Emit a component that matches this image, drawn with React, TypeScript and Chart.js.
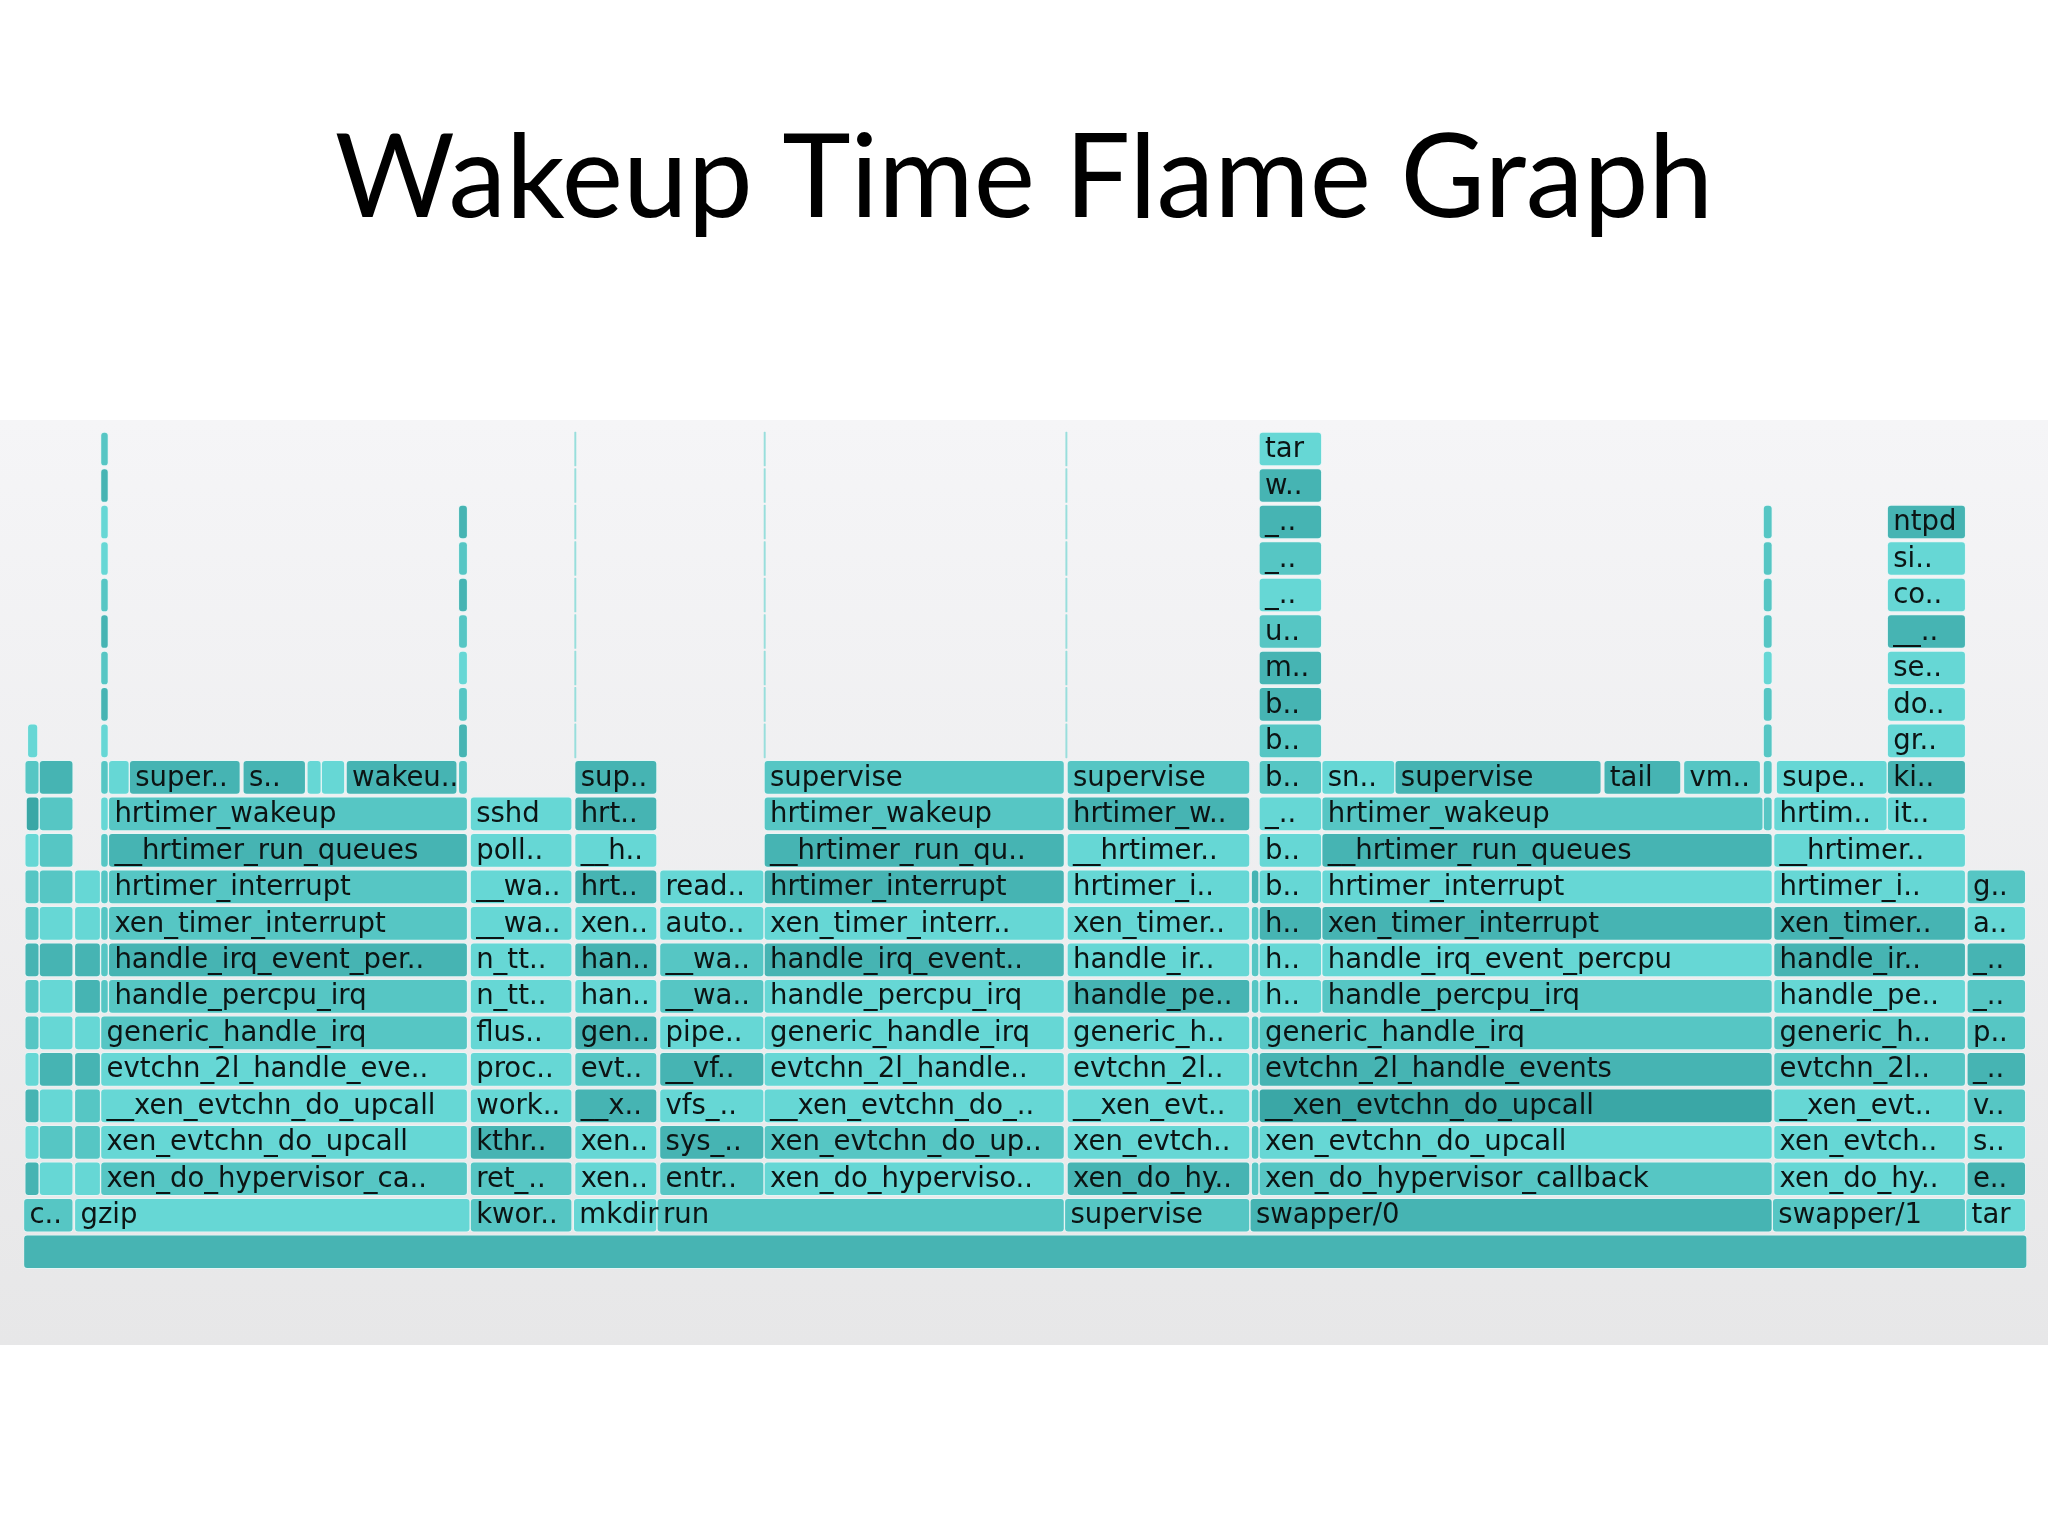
import React, { useEffect, useRef } from "react";
import { Chart, registerables } from "chart.js";

Chart.register(...registerables);

type Frame = [string, number, number];

const TITLE = "Wakeup Time Flame Graph";
const TOTAL_SAMPLES = 1534;
const MAX_DEPTH = 22;

// ---- data: one small list per stack depth: [label, start, end] in samples ----
const depth0: Frame[] = [["", 0, 1534]];
const depth1: Frame[] = [
  ["c..", 0, 38], ["gzip", 39, 342], ["kwor..", 342, 420], ["mkdir", 421, 485], ["run", 485, 797],
  ["supervise", 797, 939], ["swapper/0", 939, 1339], ["swapper/1", 1339, 1487], ["tar", 1487, 1533],
];
const depth2: Frame[] = [
  ["", 1, 12], ["", 12, 38], ["", 39, 59], ["xen_do_hypervisor_ca..", 59, 340], ["ret_..", 342, 420],
  ["xen..", 422, 485], ["entr..", 487, 567], ["xen_do_hyperviso..", 567, 797], ["xen_do_hy..", 799, 939],
  ["", 940, 946], ["xen_do_hypervisor_callback", 946, 1339], ["xen_do_hy..", 1340, 1487], ["e..", 1488, 1533],
];
const depth3: Frame[] = [
  ["", 1, 12], ["", 12, 38], ["", 39, 59], ["xen_evtchn_do_upcall", 59, 340], ["kthr..", 342, 420],
  ["xen..", 422, 485], ["sys_..", 487, 567], ["xen_evtchn_do_up..", 567, 797], ["xen_evtch..", 799, 939],
  ["", 940, 946], ["xen_evtchn_do_upcall", 946, 1339], ["xen_evtch..", 1340, 1487], ["s..", 1488, 1533],
];
const depth4: Frame[] = [
  ["", 1, 12], ["", 12, 38], ["", 39, 59], ["__xen_evtchn_do_upcall", 59, 340], ["work..", 342, 420],
  ["__x..", 422, 485], ["vfs_..", 487, 567], ["__xen_evtchn_do_..", 567, 797], ["__xen_evt..", 799, 939],
  ["", 940, 946], ["__xen_evtchn_do_upcall", 946, 1339], ["__xen_evt..", 1340, 1487], ["v..", 1488, 1533],
];
const depth5: Frame[] = [
  ["", 1, 12], ["", 12, 38], ["", 39, 59], ["evtchn_2l_handle_eve..", 59, 340], ["proc..", 342, 420],
  ["evt..", 422, 485], ["__vf..", 487, 567], ["evtchn_2l_handle..", 567, 797], ["evtchn_2l..", 799, 939],
  ["", 940, 946], ["evtchn_2l_handle_events", 946, 1339], ["evtchn_2l..", 1340, 1487], ["_..", 1488, 1533],
];
const depth6: Frame[] = [
  ["", 1, 12], ["", 12, 38], ["", 39, 59], ["generic_handle_irq", 59, 340], ["flus..", 342, 420],
  ["gen..", 422, 485], ["pipe..", 487, 567], ["generic_handle_irq", 567, 797], ["generic_h..", 799, 939],
  ["", 940, 946], ["generic_handle_irq", 946, 1339], ["generic_h..", 1340, 1487], ["p..", 1488, 1533],
];
const depth7: Frame[] = [
  ["", 1, 12], ["", 12, 38], ["", 39, 59], ["", 59, 65], ["handle_percpu_irq", 65, 340], ["n_tt..", 342, 420],
  ["han..", 422, 485], ["__wa..", 487, 567], ["handle_percpu_irq", 567, 797], ["handle_pe..", 799, 939],
  ["", 940, 946], ["h..", 946, 994], ["handle_percpu_irq", 994, 1339], ["handle_pe..", 1340, 1487], ["_..", 1488, 1533],
];
const depth8: Frame[] = [
  ["", 1, 12], ["", 12, 38], ["", 39, 59], ["", 59, 65], ["handle_irq_event_per..", 65, 340], ["n_tt..", 342, 420],
  ["han..", 422, 485], ["__wa..", 487, 567], ["handle_irq_event..", 567, 797], ["handle_ir..", 799, 939],
  ["", 940, 946], ["h..", 946, 994], ["handle_irq_event_percpu", 994, 1339], ["handle_ir..", 1340, 1487], ["_..", 1488, 1533],
];
const depth9: Frame[] = [
  ["", 1, 12], ["", 12, 38], ["", 39, 59], ["", 59, 65], ["xen_timer_interrupt", 65, 340], ["__wa..", 342, 420],
  ["xen..", 422, 485], ["auto..", 487, 567], ["xen_timer_interr..", 567, 797], ["xen_timer..", 799, 939],
  ["", 940, 946], ["h..", 946, 994], ["xen_timer_interrupt", 994, 1339], ["xen_timer..", 1340, 1487], ["a..", 1488, 1533],
];
const depth10: Frame[] = [
  ["", 1, 12], ["", 12, 38], ["", 39, 59], ["", 59, 65], ["hrtimer_interrupt", 65, 340], ["__wa..", 342, 420],
  ["hrt..", 422, 485], ["read..", 487, 567], ["hrtimer_interrupt", 567, 797], ["hrtimer_i..", 799, 939],
  ["", 940, 946], ["b..", 946, 994], ["hrtimer_interrupt", 994, 1339], ["hrtimer_i..", 1340, 1487], ["g..", 1488, 1533],
];
const depth11: Frame[] = [
  ["", 1, 12], ["", 12, 38], ["", 59, 65], ["__hrtimer_run_queues", 65, 340], ["poll..", 342, 420],
  ["__h..", 422, 485], ["__hrtimer_run_qu..", 567, 797], ["__hrtimer..", 799, 939],
  ["b..", 946, 994], ["__hrtimer_run_queues", 994, 1339], ["__hrtimer..", 1340, 1487],
];
const depth12: Frame[] = [
  ["", 2, 12], ["", 12, 38], ["", 59, 65], ["hrtimer_wakeup", 65, 340], ["sshd", 342, 420],
  ["hrt..", 422, 485], ["hrtimer_wakeup", 567, 797], ["hrtimer_w..", 799, 939],
  ["_..", 946, 994], ["hrtimer_wakeup", 994, 1332], ["", 1332, 1339], ["hrtim..", 1340, 1427], ["it..", 1427, 1487],
];
const depth13: Frame[] = [
  ["", 1, 12], ["", 12, 38], ["", 59, 65], ["", 65, 81], ["super..", 81, 166], ["s..", 168, 216],
  ["", 217, 228], ["", 228, 246], ["wakeu..", 247, 332], ["", 333, 340], ["sup..", 422, 485],
  ["supervise", 567, 797], ["supervise", 799, 939], ["b..", 946, 994], ["sn..", 994, 1050],
  ["supervise", 1050, 1208], ["tail", 1210, 1269], ["vm..", 1271, 1330], ["", 1332, 1339],
  ["supe..", 1342, 1427], ["ki..", 1427, 1487],
];
const depth14: Frame[] = [
  ["", 3, 11], ["", 59, 65], ["", 333, 340], ["", 422, 423], ["", 567, 568], ["", 798, 799],
  ["b..", 946, 994], ["", 1332, 1339], ["gr..", 1427, 1487],
];
const depth15: Frame[] = [
  ["", 59, 65], ["", 333, 340], ["", 422, 423], ["", 567, 568], ["", 798, 799],
  ["b..", 946, 994], ["", 1332, 1339], ["do..", 1427, 1487],
];
const depth16: Frame[] = [
  ["", 59, 65], ["", 333, 340], ["", 422, 423], ["", 567, 568], ["", 798, 799],
  ["m..", 946, 994], ["", 1332, 1339], ["se..", 1427, 1487],
];
const depth17: Frame[] = [
  ["", 59, 65], ["", 333, 340], ["", 422, 423], ["", 567, 568], ["", 798, 799],
  ["u..", 946, 994], ["", 1332, 1339], ["__..", 1427, 1487],
];
const depth18: Frame[] = [
  ["", 59, 65], ["", 333, 340], ["", 422, 423], ["", 567, 568], ["", 798, 799],
  ["_..", 946, 994], ["", 1332, 1339], ["co..", 1427, 1487],
];
const depth19: Frame[] = [
  ["", 59, 65], ["", 333, 340], ["", 422, 423], ["", 567, 568], ["", 798, 799],
  ["_..", 946, 994], ["", 1332, 1339], ["si..", 1427, 1487],
];
const depth20: Frame[] = [
  ["", 59, 65], ["", 333, 340], ["", 422, 423], ["", 567, 568], ["", 798, 799],
  ["_..", 946, 994], ["", 1332, 1339], ["ntpd", 1427, 1487],
];
const depth21: Frame[] = [
  ["", 59, 65], ["", 422, 423], ["", 567, 568], ["", 798, 799], ["w..", 946, 994],
];
const depth22: Frame[] = [
  ["", 59, 65], ["", 422, 423], ["", 567, 568], ["", 798, 799], ["tar", 946, 994],
];

const FRAME_ROWS: Frame[][] = [
  depth0, depth1, depth2, depth3, depth4, depth5, depth6, depth7, depth8, depth9, depth10, depth11,
  depth12, depth13, depth14, depth15, depth16, depth17, depth18, depth19, depth20, depth21, depth22,
];

// ---- styling (kept apart from data): one shade code per frame, per depth ----
const SHADE_ROWS: string[] = [
  "R",
  "MLMLMMDML",
  "DLLMMLMLDMMLD",
  "LMMLDLDMLMLLL",
  "DLMLLDLLLMXLM",
  "LDDLLMDLLMDMD",
  "MLLMLDLLLMMMM",
  "MLDMMLLMLDMLMLM",
  "DDDMDLDMDLMLLDD",
  "MLLMMLLLLLMDDDL",
  "MMLMMLDLDLDLLLM",
  "LMMDLLDLLDL",
  "XMLMLDMDLMMLL",
  "MDMLDDLLDMDMMMLDDMMLD",
  "LLDTTTMML",
  "DMTTTDML",
  "MLTTTDLL",
  "DMTTTMMD",
  "MDTTTLML",
  "LMTTTMML",
  "LDTTTDMD",
  "DTTTD",
  "MTTTL",
];
const SHADE_COLORS: Record<string, string> = {
  R: "#47b4b3",
  L: "#66d7d5",
  M: "#56c6c4",
  D: "#46b4b3",
  X: "#3aa7a6",
  T: "#98dedc",
};

export default function App() {
  const canvasRef = useRef<HTMLCanvasElement | null>(null);

  useEffect(() => {
    const canvas = canvasRef.current;
    if (!canvas) return;

    const points: { x: [number, number]; y: number }[] = [];
    const colors: string[] = [];
    const labels: string[] = [];
    const borders: number[] = [];
    FRAME_ROWS.forEach((row, depth) => {
      row.forEach(([label, start, end], i) => {
        points.push({ x: [start, end], y: depth });
        const code = SHADE_ROWS[depth][i] || "M";
        colors.push(SHADE_COLORS[code]);
        labels.push(label);
        borders.push(end - start < 3 ? 0 : 1);
      });
    });

    const backdropPlugin = {
      id: "slideBackdrop",
      beforeDraw(chart: any) {
        const ctx = chart.ctx as CanvasRenderingContext2D;
        ctx.save();
        ctx.fillStyle = "#ffffff";
        ctx.fillRect(0, 0, chart.width, chart.height);
        const g = ctx.createLinearGradient(0, 420, 0, 1345);
        g.addColorStop(0, "#f5f5f7");
        g.addColorStop(1, "#e7e7e8");
        ctx.fillStyle = g;
        ctx.fillRect(0, 420, chart.width, 925);
        ctx.font = "116px Lato";
        ctx.fillStyle = "#000000";
        ctx.textAlign = "center";
        ctx.textBaseline = "alphabetic";
        ctx.fillText(TITLE, chart.width / 2, 217);
        ctx.restore();
      },
    };

    const labelPlugin = {
      id: "frameLabels",
      afterDatasetsDraw(chart: any) {
        const ctx = chart.ctx as CanvasRenderingContext2D;
        const meta = chart.getDatasetMeta(0);
        ctx.save();
        ctx.font = "27.5px 'DejaVu Sans'";
        ctx.fillStyle = "#0c1414";
        ctx.textAlign = "left";
        ctx.textBaseline = "middle";
        meta.data.forEach((el: any, i: number) => {
          const label = labels[i];
          if (!label) return;
          const p = el.getProps(["x", "y", "base"], true);
          const left = Math.min(p.x, p.base);
          ctx.fillText(label, left + 6, p.y + 1);
        });
        ctx.restore();
      },
    };

    const chart = new Chart(canvas, {
      type: "bar",
      data: {
        datasets: [
          {
            data: points as any,
            backgroundColor: colors,
            borderColor: "rgba(230,246,246,0.95)",
            borderWidth: borders,
            borderRadius: 4,
            borderSkipped: false,
            barThickness: 34,
          } as any,
        ],
      },
      options: {
        indexAxis: "y",
        animation: false,
        responsive: false,
        events: [],
        layout: { padding: { left: 23.5, right: 21, top: 430.8, bottom: 266 } },
        scales: {
          x: { type: "linear", min: 0, max: TOTAL_SAMPLES, display: false },
          y: { type: "linear", min: -0.5, max: MAX_DEPTH + 0.5, display: false, offset: false },
        },
        plugins: {
          legend: { display: false },
          tooltip: { enabled: false },
          title: { display: false },
        },
      } as any,
      plugins: [backdropPlugin, labelPlugin],
    });

    return () => chart.destroy();
  }, []);

  return (
    <div style={{ position: "absolute", left: 0, top: 0, width: 2048, height: 1536, background: "#fff" }}>
      <canvas ref={canvasRef} width={2048} height={1536} style={{ display: "block" }} />
    </div>
  );
}
